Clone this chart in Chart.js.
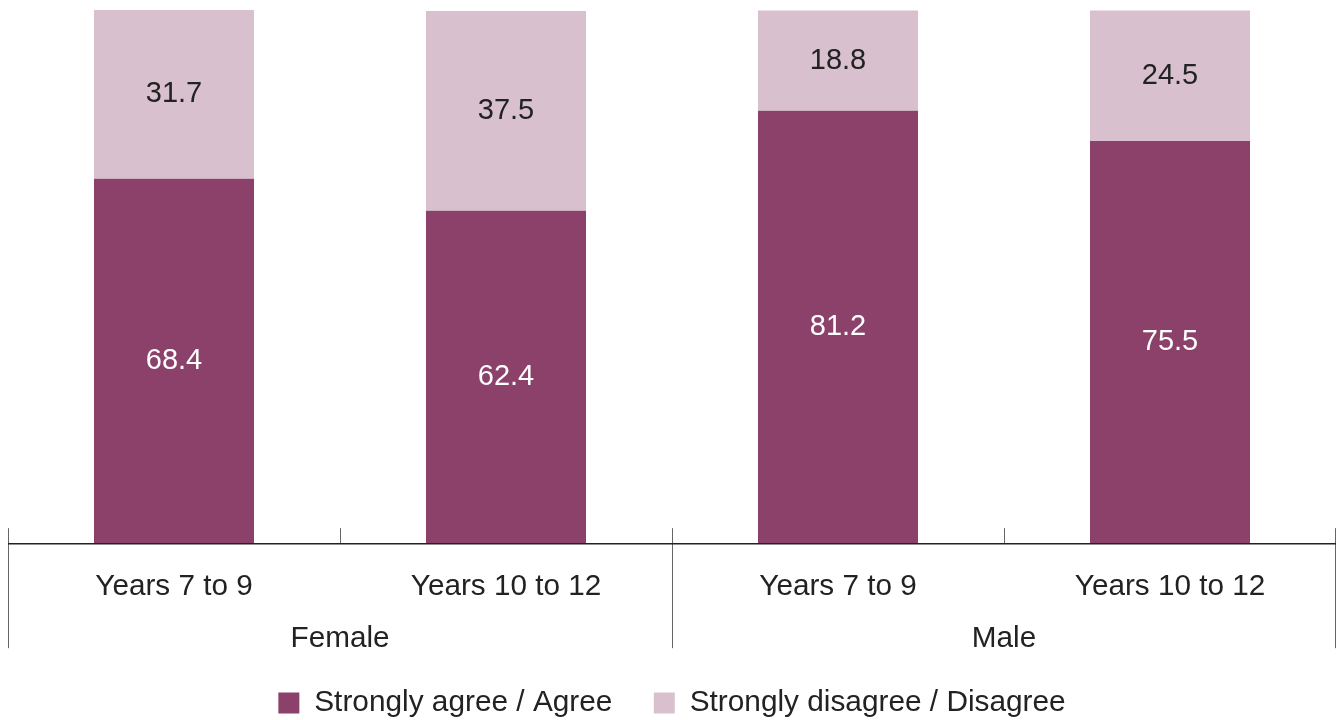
<!DOCTYPE html>
<html>
<head>
<meta charset="utf-8">
<script src="https://cdn.jsdelivr.net/npm/chart.js@4/dist/chart.umd.min.js"></script>
<style>
html,body{margin:0;padding:0;background:#fff;}
#wrap{width:1338px;height:720px;}
</style>
</head>
<body>
<div id="wrap"><canvas id="c" width="1338" height="720"></canvas></div>
<script>
const categories = ["Years 7 to 9", "Years 10 to 12", "Years 7 to 9", "Years 10 to 12"];
const groups = ["Female", "Male"];
const seriesNames = ["Strongly agree / Agree", "Strongly disagree / Disagree"];
const agreeValues = [68.4, 62.4, 81.2, 75.5];
const disagreeValues = [31.7, 37.5, 18.8, 24.5];

const DARK = "#8B416A";
const LIGHT = "#D9C0CE";
const FONT = "'Liberation Sans', Arial, sans-serif";
const TEXT = "#222222";

const decorPlugin = {
  id: 'decor',
  afterDatasetsDraw(chart) {
    const ctx = chart.ctx;
    ctx.save();
    ctx.font = "29px " + FONT;
    ctx.textAlign = "center";
    ctx.textBaseline = "middle";
    chart.data.datasets.forEach((ds, di) => {
      const meta = chart.getDatasetMeta(di);
      meta.data.forEach((bar, i) => {
        const v = ds.data[i];
        ctx.fillStyle = di === 0 ? "#ffffff" : TEXT;
        ctx.fillText(v.toFixed(1), bar.x, (bar.y + bar.base) / 2);
      });
    });
    ctx.restore();
  },
  afterDraw(chart) {
    const ctx = chart.ctx;
    const xs = chart.scales.x;
    const x2 = chart.scales.x2;
    const n = categories.length;
    const step = xs.getPixelForValue(1) - xs.getPixelForValue(0);
    const bottom = chart.chartArea.bottom;
    const per = n / groups.length;
    ctx.save();
    ctx.strokeStyle = "#666";
    ctx.lineWidth = 1;
    for (let i = 0; i <= n; i++) {
      let bx = Math.round(xs.getPixelForValue(0) - step / 2 + i * step) + 0.5;
      if (i === n) bx -= 1;
      const isGroup = i % per === 0;
      ctx.beginPath();
      ctx.moveTo(bx, bottom - 15);
      ctx.lineTo(bx, isGroup ? x2.top + 44 : bottom);
      ctx.stroke();
    }
    ctx.strokeStyle = "#222";
    ctx.lineWidth = 1.5;
    ctx.beginPath();
    ctx.moveTo(xs.left, bottom + 0.5);
    ctx.lineTo(xs.right, bottom + 0.5);
    ctx.stroke();
    ctx.restore();
  }
};

new Chart(document.getElementById('c'), {
  type: 'bar',
  data: {
    labels: categories,
    datasets: [
      { label: seriesNames[0], data: agreeValues, backgroundColor: DARK, borderWidth: 0,
        barPercentage: 0.482, categoryPercentage: 1 },
      { label: seriesNames[1], data: disagreeValues, backgroundColor: LIGHT, borderWidth: 0,
        barPercentage: 0.482, categoryPercentage: 1 }
    ]
  },
  options: {
    responsive: false,
    animation: false,
    layout: { padding: { top: 10, left: 8, right: 2, bottom: -8 } },
    plugins: {
      tooltip: { enabled: false },
      legend: {
        position: 'bottom',
        labels: {
          boxWidth: 21, boxHeight: 21, padding: 0,
          color: TEXT,
          font: { size: 29.8, family: FONT },
          generateLabels(chart) {
            const items = Chart.defaults.plugins.legend.labels.generateLabels(chart);
            items.forEach((it, i) => {
              it.lineWidth = 0;
              if (i < items.length - 1) it.text = it.text + "     ";
            });
            return items;
          }
        }
      }
    },
    scales: {
      x: {
        stacked: true,
        offset: true,
        grid: { display: false, drawTicks: false },
        border: { display: false },
        ticks: { color: TEXT, font: { size: 29.7, family: FONT }, padding: 26, maxRotation: 0, autoSkip: false },
        afterFit(scale) { scale.height = 61; }
      },
      x2: {
        type: 'category',
        labels: groups,
        position: 'bottom',
        offset: true,
        grid: { display: false, drawTicks: false },
        border: { display: false },
        ticks: { color: TEXT, font: { size: 29.7, family: FONT }, padding: 17, maxRotation: 0 },
        afterFit(scale) { scale.height = 84; }
      },
      y: {
        stacked: true,
        display: false,
        min: 0,
        max: 100.1
      }
    }
  },
  plugins: [decorPlugin]
});
</script>
</body>
</html>
